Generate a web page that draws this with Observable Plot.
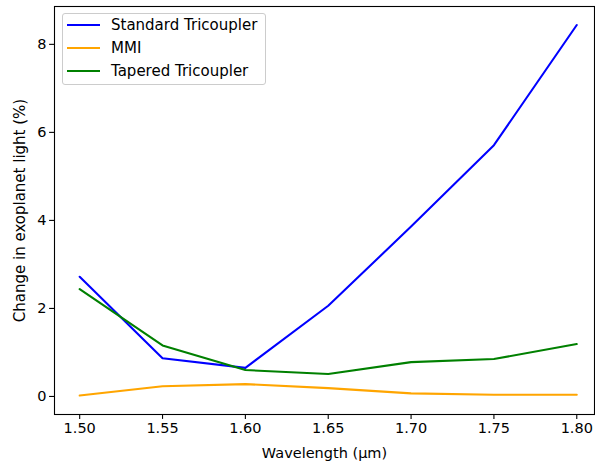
<!DOCTYPE html>
<html>
<head>
<meta charset="utf-8">
<script src="https://cdn.jsdelivr.net/npm/d3@7"></script>
<script src="https://cdn.jsdelivr.net/npm/@observablehq/plot@0.6"></script>
<style>
  html, body { margin: 0; padding: 0; background: #fff; overflow: hidden; }
  #wrap { position: relative; width: 595px; height: 464px; overflow: hidden; }
  #wrap svg { display: block; max-width: none !important; }
  #legend {
    position: absolute; left: 62px; top: 13px; width: 202px; height: 70px;
    background: rgba(255,255,255,0.8); border: 1px solid #cccccc; border-radius: 3px;
    font-family: "DejaVu Sans", sans-serif; font-size: 15px; color: #000;
  }
  .item { position: absolute; left: 4px; height: 20px; display: flex; align-items: center; white-space: nowrap; }
  .item .sw { width: 33px; height: 2px; margin-right: 11px; }
</style>
</head>
<body>
<div id="wrap"></div>
<script>
const wavelengths = [1.50, 1.55, 1.60, 1.65, 1.70, 1.75, 1.80];
const seriesNames = ["Standard Tricoupler", "MMI", "Tapered Tricoupler"];
const seriesColors = ["#0000ff", "#ffa500", "#008000"];
const standardTricoupler = [2.72, 0.87, 0.65, 2.06, 3.86, 5.71, 8.44];
const mmi = [0.02, 0.23, 0.28, 0.19, 0.07, 0.04, 0.04];
const taperedTricoupler = [2.44, 1.16, 0.60, 0.51, 0.78, 0.85, 1.19];
const xTicks = [1.50, 1.55, 1.60, 1.65, 1.70, 1.75, 1.80];
const yTicks = [0, 2, 4, 6, 8];

const seriesValues = [standardTricoupler, mmi, taperedTricoupler];
const data = [];
seriesNames.forEach((name, i) => {
  wavelengths.forEach((w, j) => data.push({series: name, x: w, y: seriesValues[i][j]}));
});

const chart = Plot.plot({
  width: 595,
  height: 464,
  marginLeft: 54,
  marginRight: 1,
  marginTop: 6,
  marginBottom: 50,
  style: {fontFamily: "DejaVu Sans, sans-serif", fontSize: "14.5px", background: "#fff", color: "#000"},
  x: {domain: [1.4848, 1.8107]},
  y: {domain: [-0.41, 8.86]},
  color: {domain: seriesNames, range: seriesColors},
  marks: [
    Plot.line(data, {x: "x", y: "y", z: "series", stroke: "series", strokeWidth: 2.08}),
    Plot.frame({stroke: "#000", strokeWidth: 1.1}),
    Plot.axisX({ticks: xTicks, tickFormat: d3.format(".2f"), tickSize: 4.9, tickPadding: 3, strokeWidth: 1.1,
      label: "Wavelength (µm)", labelAnchor: "center", labelArrow: "none", labelOffset: 43}),
    Plot.axisY({ticks: yTicks, tickFormat: d3.format("d"), tickSize: 4.9, tickPadding: 3, strokeWidth: 1.1,
      label: "Change in exoplanet light (%)", labelAnchor: "center", labelArrow: "none", labelOffset: 40})
  ]
});
d3.select(chart).selectAll('[aria-label="y-axis label"] text, text[aria-label="y-axis label"]').style("font-size", "15px");
document.getElementById("wrap").appendChild(chart);

const legend = document.createElement("div");
legend.id = "legend";
seriesNames.forEach((name, i) => {
  const item = document.createElement("div");
  item.className = "item";
  item.style.top = (1 + i * 23) + "px";
  const sw = document.createElement("span");
  sw.className = "sw";
  sw.style.background = seriesColors[i];
  const t = document.createElement("span");
  t.textContent = name;
  item.appendChild(sw);
  item.appendChild(t);
  legend.appendChild(item);
});
document.getElementById("wrap").appendChild(legend);
</script>
</body>
</html>
